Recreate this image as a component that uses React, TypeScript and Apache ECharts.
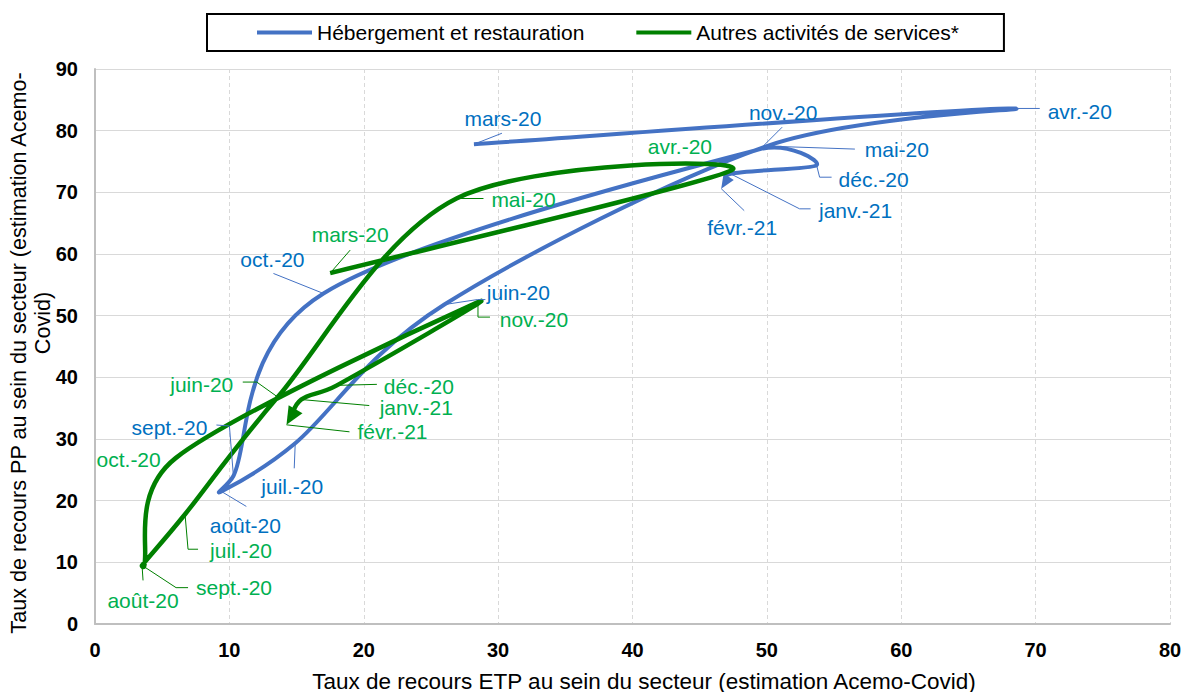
import React, { useEffect, useRef } from "react";
import * as echarts from "echarts";

// ---------- data ----------
const months = ["mars-20", "avr.-20", "mai-20", "juin-20", "juil.-20", "août-20", "sept.-20", "oct.-20", "nov.-20", "déc.-20", "janv.-21", "févr.-21"];
const hebergementETP = [28.2, 68.0, 50.0, 26.0, 14.9, 9.4, 10.3, 17.0, 49.5, 53.7, 47.3, 46.6];
const hebergementPP = [77.8, 83.6, 77.5, 51.8, 29.3, 21.5, 24.0, 53.6, 77.0, 74.4, 73.0, 70.6];
const autresETP = [17.5, 47.4, 26.9, 13.6, 6.7, 3.5, 3.65, 6.0, 28.5, 18.0, 15.35, 14.25];
const autresPP = [56.9, 73.6, 69.0, 36.8, 17.8, 9.5, 9.3, 26.9, 52.2, 38.7, 36.4, 32.3];
const seriesNames = ["Hébergement et restauration", "Autres activités de services*"];
const xTitle = "Taux de recours ETP au sein du secteur (estimation Acemo-Covid)";
const yTitleLines = ["Taux de recours PP au sein du secteur (estimation Acemo-", "Covid)"];

// ---------- label layout (pixel offsets from each point) ----------
const hebLabelOffsets = [[29, -26], [71, 3], [130, 3], [74, -12], [-3, 43], [24, 34], [-64, -49], [-51, -34], [23, -37], [57, 14], [125, 37], [21, 39]];
const hebLeaders = [
  [[0, 0], [28, -11]],
  [[0, 0], [31, 0]],
  [[0, 0], [88, 3]],
  [[0, 0], [33, -5], [41, -5]],
  [[0, 0], [-1, 25]],
  [[0, 0], [25, 15]],
  [[0, 0], [-4, -50], [-17, -51]],
  [[0, 0], [-50, -20]],
  [[0, 0], [22, -22]],
  [[0, 0], [3, 12], [15, 12]],
  [[0, 0], [69, 35], [80, 35]],
  [[0, 0], [23, 22]],
];
const autLabelOffsets = [[20, -39], [-52, -24], [67, 1], [-76, -13], [56, 36], [1, 35], [90, 21], [-47, 1.5], [56, 17], [82, 1], [115, 8], [106, 7]];
const autLeaders = [
  [[0, 0], [20, -23]],
  [],
  [[0, 0], [27, 0]],
  [[0, 0], [-21, -15], [-35, -15]],
  [[0, 0], [3, 35], [13, 35]],
  [[0, 0], [1, 15]],
  [[0, 0], [32, 21], [44, 21]],
  [],
  [[0, 0], [0, 15], [12, 15]],
  [[0, 0], [40, -1]],
  [[0, 0], [68, 6]],
  [[0, 0], [63, 7]],
];

const FONT = "'Liberation Sans', Arial, Helvetica, sans-serif";
const BLUE = "#4472C4";
const GREEN = "#008000";
const BLUE_TXT = "#0070C0";
const GREEN_TXT = "#00B050";
const CAP = 0.5;

function capVec(v: number[], maxLen: number) {
  const l = Math.hypot(v[0], v[1]);
  if (l <= maxLen || l === 0) return v;
  return [(v[0] * maxLen) / l, (v[1] * maxLen) / l];
}

function tangents(P: number[][]) {
  const n = P.length;
  return P.map((_, i) => {
    const a = P[Math.max(0, i - 1)];
    const b = P[Math.min(n - 1, i + 1)];
    return [(b[0] - a[0]) / 6, (b[1] - a[1]) / 6];
  });
}

function buildCurve(P: number[][], arrowLen: number) {
  const T = tangents(P);
  let d = `M${P[0][0]},${P[0][1]}`;
  let ux = 0, uy = 1;
  for (let i = 0; i < P.length - 1; i++) {
    const p0 = P[i], p1 = P[i + 1];
    const L = Math.hypot(p1[0] - p0[0], p1[1] - p0[1]);
    const t0 = capVec(T[i], L * CAP);
    const t1 = capVec(T[i + 1], L * CAP);
    const c1 = [p0[0] + t0[0], p0[1] + t0[1]];
    let c2 = [p1[0] - t1[0], p1[1] - t1[1]];
    let end = p1;
    if (i === P.length - 2) {
      const dx = p1[0] - c2[0], dy = p1[1] - c2[1];
      const dl = Math.hypot(dx, dy) || 1;
      ux = dx / dl; uy = dy / dl;
      const back = arrowLen * 0.6;
      end = [p1[0] - ux * back, p1[1] - uy * back];
      c2 = [c2[0] - ux * back, c2[1] - uy * back];
    }
    d += ` C${c1[0]},${c1[1]} ${c2[0]},${c2[1]} ${end[0]},${end[1]}`;
  }
  return { d, ux, uy };
}

function curveRender(xs: number[], ys: number[], color: string, width: number, aLen: number, aHalf: number) {
  return (params: any, api: any) => {
    const i = params.dataIndex;
    const n = xs.length;
    if (i !== 0 && i !== n - 1) return { type: "group", children: [] };
    const P = xs.map((x, k) => api.coord([x, ys[k]]));
    const { d, ux, uy } = buildCurve(P, aLen);
    if (i === 0) {
      return {
        type: "path",
        shape: { pathData: d },
        style: { stroke: color, lineWidth: width, fill: "none", lineJoin: "round", lineCap: "butt" },
      };
    }
    const tip = P[n - 1];
    const bx = tip[0] - ux * aLen, by = tip[1] - uy * aLen;
    const px = -uy, py = ux;
    return {
      type: "polygon",
      shape: { points: [[tip[0], tip[1]], [bx + px * aHalf, by + py * aHalf], [bx - px * aHalf, by - py * aHalf]] },
      style: { fill: color },
    };
  };
}

function labelRender(xs: number[], ys: number[], offsets: number[][], leaders: number[][][], txtColor: string, leaderColor: string) {
  return (params: any, api: any) => {
    const i = params.dataIndex;
    const p = api.coord([xs[i], ys[i]]);
    const children: any[] = [];
    const L = leaders[i];
    if (L && L.length > 1) {
      children.push({
        type: "polyline",
        shape: { points: L.map((o) => [p[0] + o[0], p[1] + o[1]]) },
        style: { stroke: leaderColor, lineWidth: 1, fill: "none" },
      });
    }
    children.push({
      type: "text",
      x: p[0] + offsets[i][0],
      y: p[1] + offsets[i][1],
      style: { text: months[i], fill: txtColor, fontSize: 21, fontFamily: FONT, align: "center", verticalAlign: "middle" },
    });
    return { type: "group", children };
  };
}

export default function App() {
  const ref = useRef<HTMLDivElement>(null);
  useEffect(() => {
    document.body.style.margin = "0";
    if (!ref.current) return;
    const chart = echarts.init(ref.current, undefined, { renderer: "svg" });
    const hebData = hebergementETP.map((x, k) => [x, hebergementPP[k]]);
    const autData = autresETP.map((x, k) => [x, autresPP[k]]);
    chart.setOption({
      animation: false,
      backgroundColor: "#fff",
      textStyle: { fontFamily: FONT },
      grid: { left: 95, right: 16, top: 69, bottom: 68 },
      legend: {
        data: [
          { name: seriesNames[0], icon: "rect" },
          { name: seriesNames[1], icon: "rect" },
        ],
        left: 207,
        top: 14,
        padding: [8, 45, 8, 50],
        itemGap: 52,
        itemWidth: 55,
        itemHeight: 4,
        borderColor: "#000",
        borderWidth: 2,
        selectedMode: false,
        textStyle: { fontSize: 21, color: "#000", fontFamily: FONT },
      },
      xAxis: {
        type: "value",
        min: 0,
        max: 80,
        interval: 10,
        axisLine: { show: true, lineStyle: { color: "#BFBFBF", width: 2 } },
        axisTick: { show: false },
        axisLabel: { fontSize: 20, fontWeight: "bold", color: "#000", margin: 16, fontFamily: FONT },
        splitLine: { show: true, lineStyle: { color: "#D9D9D9", width: 1, type: [4, 3] } },
      },
      yAxis: {
        type: "value",
        min: 0,
        max: 90,
        interval: 10,
        axisLine: { show: true, lineStyle: { color: "#BFBFBF", width: 2 } },
        axisTick: { show: false },
        axisLabel: { fontSize: 20, fontWeight: "bold", color: "#000", margin: 17, fontFamily: FONT },
        splitLine: { show: true, lineStyle: { color: "#D9D9D9", width: 1 } },
      },
      graphic: [
        {
          type: "text",
          x: 644,
          y: 681,
          style: { text: xTitle, fontSize: 22.5, fontFamily: FONT, fill: "#000", align: "center", verticalAlign: "middle" },
        },
        {
          type: "text",
          x: 18,
          y: 353,
          rotation: Math.PI / 2,
          style: { text: yTitleLines[0], fontSize: 21.6, fontFamily: FONT, fill: "#000", align: "center", verticalAlign: "middle" },
        },
        {
          type: "text",
          x: 42,
          y: 323,
          rotation: Math.PI / 2,
          style: { text: yTitleLines[1], fontSize: 21.6, fontFamily: FONT, fill: "#000", align: "center", verticalAlign: "middle" },
        },
      ],
      series: [
        {
          type: "custom",
          name: seriesNames[0],
          coordinateSystem: "cartesian2d",
          encode: { x: 0, y: 1 },
          itemStyle: { color: BLUE },
          clip: false,
          silent: true,
          data: hebData,
          renderItem: curveRender(hebergementETP, hebergementPP, BLUE, 4, 14, 6),
        },
        {
          type: "custom",
          name: seriesNames[1],
          coordinateSystem: "cartesian2d",
          encode: { x: 0, y: 1 },
          itemStyle: { color: GREEN },
          clip: false,
          silent: true,
          data: autData,
          renderItem: curveRender(autresETP, autresPP, GREEN, 4.5, 18, 8),
        },
        {
          type: "custom",
          name: "labels-heb",
          coordinateSystem: "cartesian2d",
          encode: { x: 0, y: 1 },
          clip: false,
          silent: true,
          data: hebData,
          renderItem: labelRender(hebergementETP, hebergementPP, hebLabelOffsets, hebLeaders, BLUE_TXT, BLUE),
        },
        {
          type: "custom",
          name: "labels-aut",
          coordinateSystem: "cartesian2d",
          encode: { x: 0, y: 1 },
          clip: false,
          silent: true,
          data: autData,
          renderItem: labelRender(autresETP, autresPP, autLabelOffsets, autLeaders, GREEN_TXT, GREEN),
        },
      ],
    });
    return () => chart.dispose();
  }, []);
  return <div ref={ref} style={{ width: 1186, height: 692 }} />;
}
